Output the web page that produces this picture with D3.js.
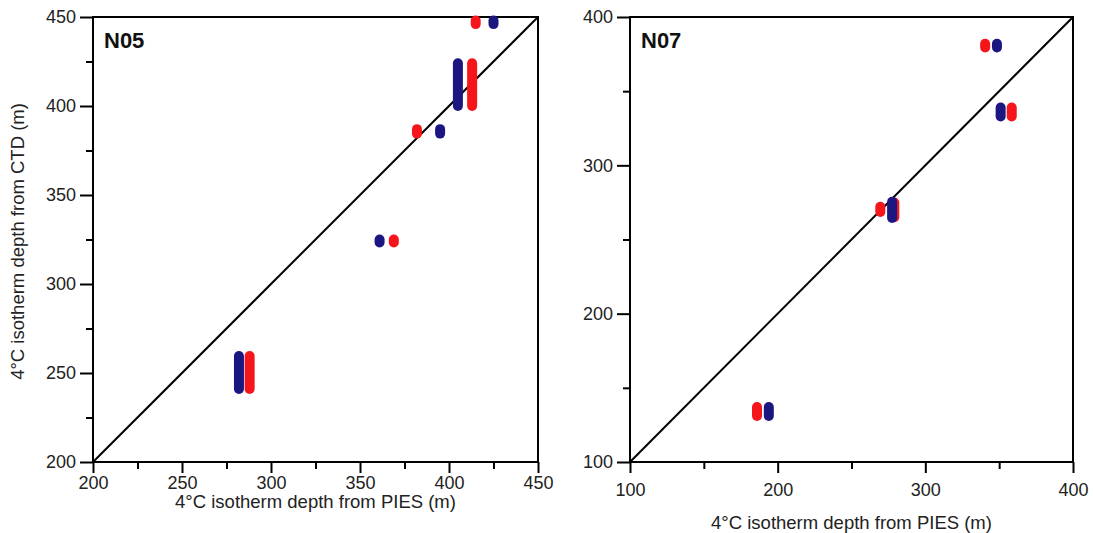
<!DOCTYPE html>
<html>
<head>
<meta charset="utf-8">
<script src="https://cdn.jsdelivr.net/npm/d3@7"></script>
<style>
  body { margin: 0; background: #fff; }
  svg { display: block; font-family: "Liberation Sans", Arial, sans-serif; }
  .axis path, .axis line { stroke: #000; stroke-width: 2; }
  .axis text { font-size: 18px; fill: #222; }
</style>
</head>
<body>
<svg id="chart" width="1093" height="533"></svg>
<script>
// N05 panel: PIES depth (x) against CTD depth range (lo..hi)
const n05BlueX  = [425, 405, 395, 361, 282];
const n05BlueLo = [446, 400, 384.5, 323.3, 241];
const n05BlueHi = [448, 424, 387, 325, 259.5];
const n05RedX   = [415, 413, 382, 369, 288];
const n05RedLo  = [446, 400, 384.5, 323.3, 241];
const n05RedHi  = [448, 424, 387, 325, 259.5];

// N07 panel
const n07BlueX  = [348.5, 351, 277.5, 194];
const n07BlueLo = [379.5, 333, 264.5, 131];
const n07BlueHi = [382, 339, 275.5, 137];
const n07RedX   = [340.5, 358.5, 269.5, 279, 186];
const n07RedLo  = [379.5, 333, 268.5, 265, 131];
const n07RedHi  = [382, 339, 272, 275, 137];

const n05Ticks = [200, 250, 300, 350, 400, 450];
const n05Minor = [225, 275, 325, 375, 425];
const n07Ticks = [100, 200, 300, 400];
const n07Minor = [150, 250, 350];

const BLUE = "#1c1780", RED = "#f5161c";
const svg = d3.select("#chart");

function zip(xs, lo, hi) {
  return xs.map((x, i) => ({ x: x, lo: lo[i], hi: hi[i] }));
}

function panel(opt) {
  const x = d3.scaleLinear().domain(opt.domain).range([opt.left, opt.right]);
  const y = d3.scaleLinear().domain(opt.domain).range([opt.bottom, opt.top]);
  const g = svg.append("g");

  // minor ticks (no labels)
  g.append("g").attr("class", "axis")
    .attr("transform", "translate(0," + opt.bottom + ")")
    .call(d3.axisBottom(x).tickValues(opt.minor).tickSize(7).tickFormat(""))
    .call(a => a.select(".domain").remove());
  g.append("g").attr("class", "axis")
    .attr("transform", "translate(" + opt.left + ",0)")
    .call(d3.axisLeft(y).tickValues(opt.minor).tickSize(7).tickFormat(""))
    .call(a => a.select(".domain").remove());

  // major ticks
  g.append("g").attr("class", "axis")
    .attr("transform", "translate(0," + opt.bottom + ")")
    .call(d3.axisBottom(x).tickValues(opt.ticks).tickSize(11).tickPadding(opt.xPad))
    .call(a => a.select(".domain").remove());
  g.append("g").attr("class", "axis")
    .attr("transform", "translate(" + opt.left + ",0)")
    .call(d3.axisLeft(y).tickValues(opt.ticks).tickSize(13).tickPadding(4))
    .call(a => a.select(".domain").remove());

  // frame
  g.append("rect")
    .attr("x", opt.left).attr("y", opt.top)
    .attr("width", opt.right - opt.left).attr("height", opt.bottom - opt.top)
    .attr("fill", "none").attr("stroke", "#000").attr("stroke-width", 2);

  // 1:1 line
  g.append("line")
    .attr("x1", x(opt.domain[0])).attr("y1", y(opt.domain[0]))
    .attr("x2", x(opt.domain[1])).attr("y2", y(opt.domain[1]))
    .attr("stroke", "#000").attr("stroke-width", 2);

  opt.series.forEach(s => {
    g.append("g").selectAll("line")
      .data(s.data)
      .join("line")
        .attr("x1", d => x(d.x)).attr("x2", d => x(d.x))
        .attr("y1", d => y(d.lo)).attr("y2", d => y(d.hi))
        .attr("stroke", s.color)
        .attr("stroke-width", 10)
        .attr("stroke-linecap", "round");
  });

  g.append("text")
    .attr("x", opt.left + 11).attr("y", opt.top + 31)
    .attr("font-size", 22).attr("font-weight", "bold").attr("fill", "#111")
    .text(opt.name);

  g.append("text")
    .attr("x", (opt.left + opt.right) / 2).attr("y", opt.xTitleY)
    .attr("text-anchor", "middle").attr("font-size", 18.5).attr("fill", "#222")
    .text("4°C isotherm depth from PIES (m)");

  if (opt.yTitle) {
    g.append("text")
      .attr("transform", "translate(24," + ((opt.top + opt.bottom) / 2 + 2) + ") rotate(-90)")
      .attr("text-anchor", "middle").attr("font-size", 18.5).attr("fill", "#222")
      .text(opt.yTitle);
  }
}

panel({
  name: "N05", domain: [200, 450], ticks: n05Ticks, minor: n05Minor,
  left: 93, right: 538, top: 17, bottom: 462, xPad: 3, xTitleY: 508,
  yTitle: "4°C isotherm depth from CTD (m)",
  series: [
    { color: RED, data: zip(n05RedX, n05RedLo, n05RedHi) },
    { color: BLUE, data: zip(n05BlueX, n05BlueLo, n05BlueHi) }
  ]
});

panel({
  name: "N07", domain: [100, 400], ticks: n07Ticks, minor: n07Minor,
  left: 630, right: 1073, top: 17, bottom: 462, xPad: 10, xTitleY: 529,
  series: [
    { color: RED, data: zip(n07RedX, n07RedLo, n07RedHi) },
    { color: BLUE, data: zip(n07BlueX, n07BlueLo, n07BlueHi) }
  ]
});
</script>
</body>
</html>
